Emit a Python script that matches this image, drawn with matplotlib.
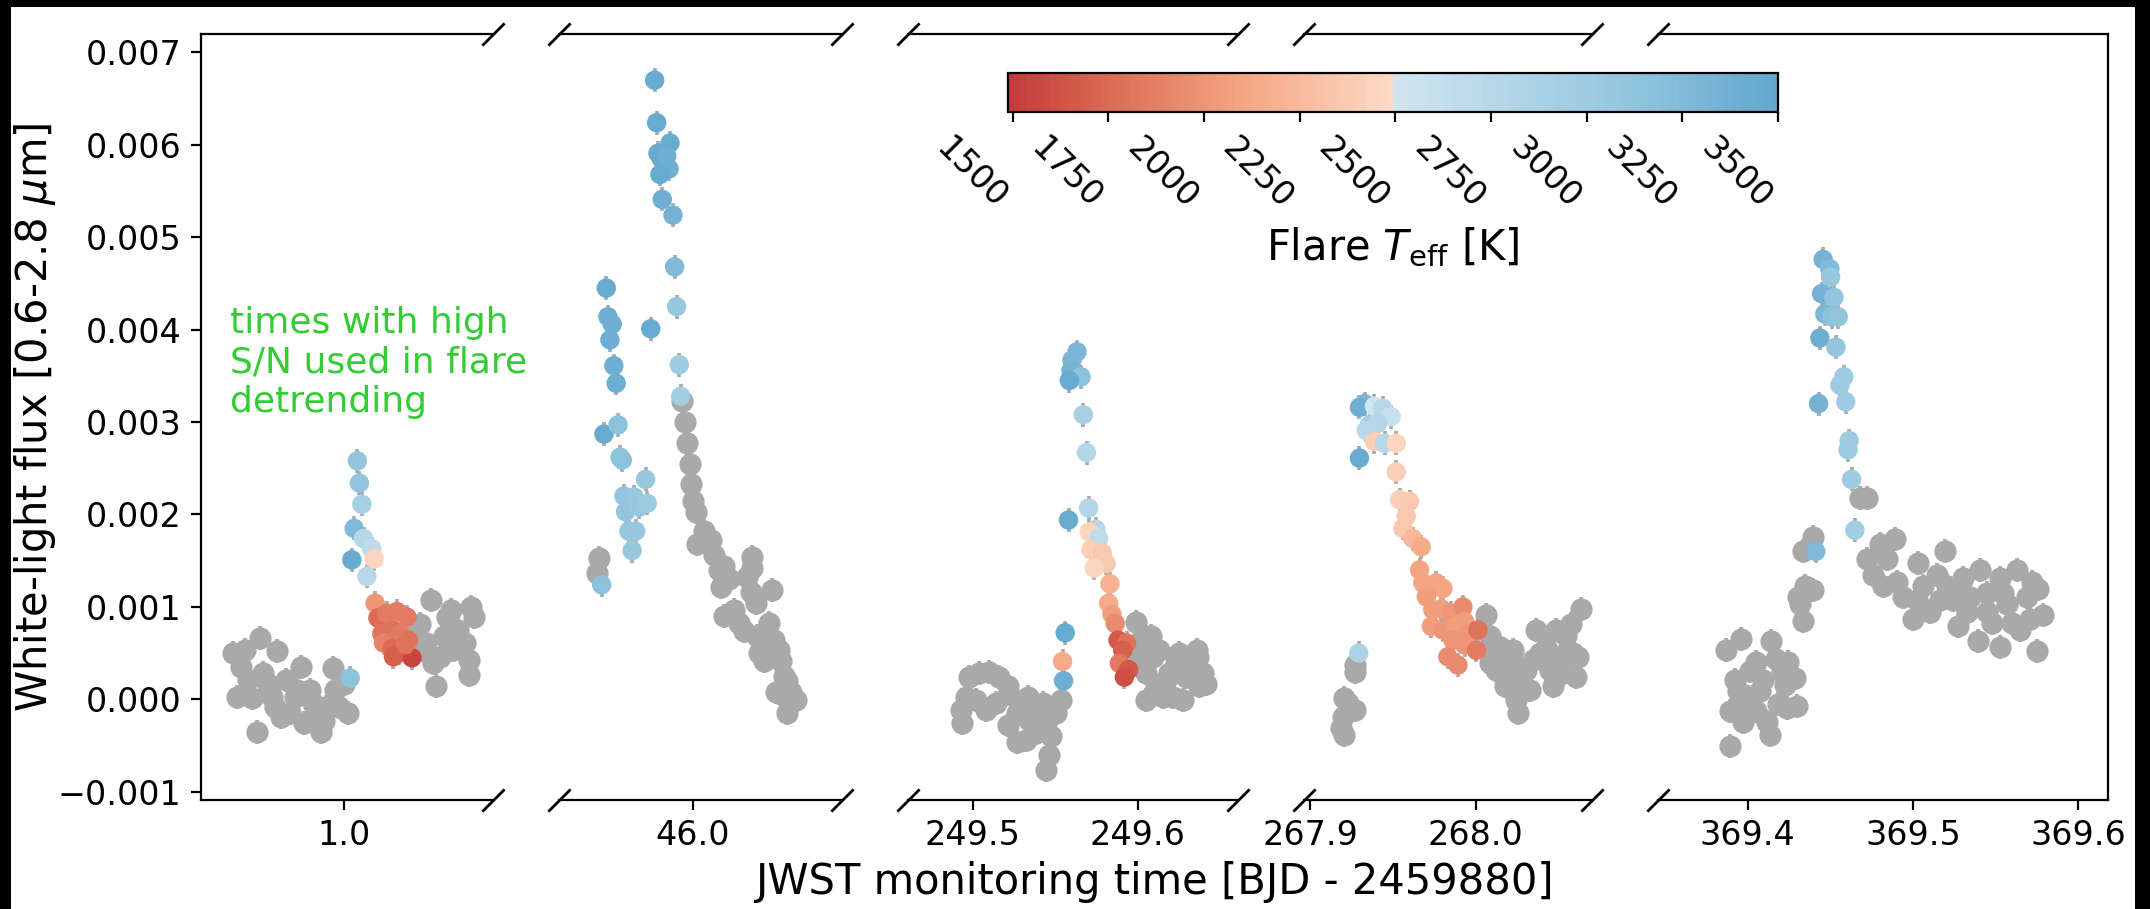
import numpy as np
import matplotlib
matplotlib.use('Agg')
import matplotlib.pyplot as plt
from matplotlib.colors import ListedColormap, Normalize
from matplotlib.patches import Rectangle

# ---- data (time in BJD - 2459880, white-light flux) ----
flux_err = 0.00013

# flare 1 (t ~ 1.0)
t1_gray = [0.9327, 0.9349, 0.9375, 0.9397, 0.9417, 0.9443, 0.9471, 0.9492, 0.9511, 0.9538,
           0.9565, 0.9579, 0.9592, 0.9620, 0.9646, 0.9674, 0.9700, 0.9714, 0.9741, 0.9755,
           0.9795, 0.9809, 0.9822, 0.9857, 0.9877, 0.9890, 0.9931, 0.9944, 0.9971, 0.9998,
           1.0025,
           1.0417, 1.0458, 1.0472, 1.0498, 1.0526, 1.0539, 1.0553, 1.0580, 1.0607, 1.0620,
           1.0647, 1.0661, 1.0688, 1.0701, 1.0729, 1.0756, 1.0756, 1.0769, 1.0783]
f1_gray = [0.00050, 0.00003, 0.00035, 0.00053, 0.00021, 0.00001, -0.00035, 0.00066, 0.00028, 0.00017,
           0.00003, -0.00008, 0.00052, -0.00019, 0.00021, -0.00015, 0.00003, 0.00010, 0.00035, -0.00026,
           0.00010, -0.00004, -0.00019, -0.00035, -0.00024, -0.00008, 0.00034, 0.00010, -0.00008, 0.00017,
           -0.00015,
           0.00068, 0.00082, 0.00053, 0.00061, 0.00107, 0.00039, 0.00014, 0.00046, 0.00068, 0.00089,
           0.00097, 0.00053, 0.00075, 0.00057, 0.00061, 0.00043, 0.00026, 0.00100, 0.00089]
t1_flare = [1.0080, 1.0092, 1.0107, 1.0060, 1.0117, 1.0167, 1.0046, 1.0181, 1.0137, 1.0187,
            1.0204, 1.0258, 1.0319, 1.0380, 1.0228, 1.0289, 1.0339, 1.0238, 1.0289, 1.0329,
            1.0389, 1.0410, 1.0298, 1.0369, 1.0036]
f1_flare = [0.00258, 0.00234, 0.00211, 0.00185, 0.00174, 0.00163, 0.00151, 0.00152, 0.00133, 0.00104,
            0.00088, 0.00093, 0.00095, 0.00089, 0.00071, 0.00075, 0.00070, 0.00061, 0.00055, 0.00050,
            0.00064, 0.00045, 0.00046, 0.00059, 0.00023]
teff1 = [3100, 3100, 2900, 3250, 2800, 2700, 3450, 2450, 2750, 2000,
         1750, 1850, 1850, 1850, 1800, 1800, 1850, 1900, 1750, 1700,
         1800, 1550, 1700, 1800, 3150]

# flare 2 (t ~ 46.0)
t2_gray = [45.9432, 45.9418, 45.9937, 45.9952, 45.9967, 45.9982, 45.9988, 46.0004, 46.0018, 46.0028,
           46.0069, 46.0109, 46.0129, 46.0160, 46.0190, 46.0170, 46.0220, 46.0190, 46.0251, 46.0281,
           46.0311, 46.0331, 46.0361, 46.0361, 46.0352, 46.0382, 46.0392, 46.0402, 46.0432, 46.0463,
           46.0483, 46.0493, 46.0523, 46.0534, 46.0554, 46.0573, 46.0534, 46.0594, 46.0624, 46.0573,
           46.0503]
f2_gray = [0.00153, 0.00137, 0.00323, 0.00300, 0.00277, 0.00255, 0.00233, 0.00215, 0.00203, 0.00168,
           0.00182, 0.00172, 0.00156, 0.00140, 0.00144, 0.00121, 0.00130, 0.00090, 0.00097, 0.00083,
           0.00074, 0.00132, 0.00154, 0.00142, 0.00116, 0.00104, 0.00069, 0.00050, 0.00041, 0.00083,
           0.00118, 0.00064, 0.00053, 0.00041, 0.00025, 0.00020, 0.00006, 0.00008, -0.00001, -0.00015,
           0.00008]
t2_flare = [45.9770, 45.9782, 45.9790, 45.9863, 45.9810, 45.9843, 45.9857, 45.9802, 45.9816, 45.9881,
            45.9891, 45.9903, 45.9919, 45.9928, 45.9477, 45.9487, 45.9513, 45.9499, 45.9523, 45.9537,
            45.9746, 45.9463, 45.9548, 45.9560, 45.9574, 45.9584, 45.9594, 45.9645, 45.9675, 45.9715,
            45.9725, 45.9614, 45.9655, 45.9634, 45.9449]
f2_flare = [0.00670, 0.00624, 0.00591, 0.00602, 0.00585, 0.00588, 0.00574, 0.00568, 0.00541, 0.00524,
            0.00468, 0.00425, 0.00362, 0.00328, 0.00445, 0.00414, 0.00406, 0.00389, 0.00361, 0.00342,
            0.00401, 0.00287, 0.00297, 0.00262, 0.00259, 0.00220, 0.00203, 0.00219, 0.00208, 0.00238,
            0.00212, 0.00182, 0.00182, 0.00161, 0.00124]
teff2 = [3450, 3450, 3450, 3450, 3450, 3400, 3400, 3450, 3400, 3350,
         3250, 3050, 3000, 2950, 3450, 3400, 3400, 3400, 3400, 3400,
         3450, 3450, 3150, 3150, 3150, 3100, 3100, 3050, 3050, 3050,
         3000, 3050, 3050, 3050, 3150]

# flare 3 (t ~ 249.55)
t3_gray = [249.4980, 249.5040, 249.5101, 249.5161, 249.4960, 249.4929, 249.4939, 249.5020, 249.5081, 249.5141,
           249.5212, 249.5222, 249.5212, 249.5272, 249.5333, 249.5343, 249.5272, 249.5323, 249.5394, 249.5424,
           249.5444, 249.5475, 249.5464, 249.5444, 249.5505, 249.5535, 249.5384,
           249.5949, 249.5990, 249.6010, 249.6030, 249.6050, 249.6050, 249.6081, 249.6090, 249.6111, 249.6131,
           249.6151, 249.6172, 249.6192, 249.6212, 249.6232, 249.6252, 249.6272, 249.6293, 249.6323, 249.6359,
           249.6363, 249.6373, 249.6393, 249.6416]
f3_gray = [0.00024, 0.00028, 0.00030, 0.00024, 0.00003, -0.00012, -0.00026, -0.00001, -0.00012, -0.00004,
           0.00014, 0.00006, -0.00028, -0.00015, 0.00003, -0.00022, -0.00046, -0.00044, -0.00012, -0.00004,
           -0.00026, -0.00040, -0.00060, -0.00077, -0.00015, -0.00001, -0.00037,
           0.00043, 0.00084, 0.00050, 0.00070, 0.00028, -0.00001, 0.00068, 0.00046, 0.00014, 0.00053,
           0.00003, 0.00021, 0.00028, 0.00003, 0.00043, 0.00050, -0.00001, 0.00024, 0.00039, 0.00053,
           0.00046, 0.00014, 0.00028, 0.00017]
t3_flare = [249.5632, 249.5602, 249.5596, 249.5657, 249.5586, 249.5671, 249.5690, 249.5703, 249.5581, 249.5747,
            249.5707, 249.5763, 249.5717, 249.5787, 249.5808, 249.5737, 249.5832, 249.5824, 249.5844, 249.5864,
            249.5881, 249.5933, 249.5909, 249.5889, 249.5945, 249.5919, 249.5561, 249.5545, 249.5551]
f3_flare = [0.00376, 0.00367, 0.00356, 0.00349, 0.00345, 0.00308, 0.00267, 0.00207, 0.00194, 0.00184,
            0.00181, 0.00174, 0.00162, 0.00158, 0.00147, 0.00142, 0.00125, 0.00104, 0.00092, 0.00082,
            0.00064, 0.00061, 0.00053, 0.00039, 0.00032, 0.00024, 0.00072, 0.00041, 0.00020]
teff3 = [3300, 3300, 3350, 3150, 3450, 2900, 2800, 2800, 3450, 2750,
         2450, 2700, 2400, 2350, 2350, 2450, 2200, 2150, 2050, 1950,
         1650, 1800, 1700, 1850, 1650, 1600, 3450, 2150, 3400]

# flare 4 (t ~ 267.95)
t4_gray = [267.9273, 267.9267, 267.9206, 267.9226, 267.9267, 267.9196, 267.9186, 267.9206,
           268.0065, 268.0085, 268.0105, 268.0146, 268.0085, 268.0186, 268.0226, 268.0176, 268.0206, 268.0247,
           268.0257, 268.0277, 268.0308, 268.0328, 268.0368, 268.0388, 268.0429, 268.0449, 268.0469, 268.0489,
           268.0509, 268.0529, 268.0550, 268.0580, 268.0590, 268.0611, 268.0620, 268.0641, 268.0347, 268.0226,
           268.0126]
f4_gray = [0.00030, 0.00037, 0.00001, -0.00004, -0.00012, -0.00019, -0.00031, -0.00039,
           0.00091, 0.00068, 0.00050, 0.00057, 0.00039, 0.00046, 0.00053, 0.00014, 0.00028, -0.00001,
           -0.00015, 0.00014, 0.00032, 0.00010, 0.00075, 0.00050, 0.00057, 0.00032, 0.00014, 0.00075,
           0.00046, 0.00028, 0.00068, 0.00082, 0.00050, 0.00024, 0.00046, 0.00098, 0.00043, 0.00039,
           0.00032]
t4_flare = [267.9328, 267.9297, 267.9388, 267.9438, 267.9489, 267.9358, 267.9408, 267.9338, 267.9388, 267.9449,
            267.9520, 267.9297, 267.9520, 267.9540, 267.9600, 267.9580, 267.9560, 267.9620, 267.9671, 267.9661,
            267.9681, 267.9762, 267.9802, 267.9702, 267.9741, 267.9792, 267.9853, 267.9923, 267.9732, 267.9802,
            267.9883, 267.9934, 267.9954, 268.0014, 267.9863, 267.9934, 268.0005, 267.9832, 267.9893, 267.9293]
f4_flare = [0.00320, 0.00316, 0.00317, 0.00315, 0.00306, 0.00297, 0.00299, 0.00291, 0.00279, 0.00277,
            0.00277, 0.00261, 0.00246, 0.00216, 0.00214, 0.00198, 0.00185, 0.00174, 0.00165, 0.00140,
            0.00126, 0.00126, 0.00120, 0.00111, 0.00097, 0.00098, 0.00093, 0.00100, 0.00079, 0.00075,
            0.00079, 0.00084, 0.00071, 0.00075, 0.00064, 0.00059, 0.00053, 0.00046, 0.00037, 0.00050]
teff4 = [3300, 3400, 2500, 2750, 2600, 2900, 2800, 2750, 2400, 2750,
         2450, 3450, 2400, 2400, 2350, 2350, 2350, 2250, 2150, 2100,
         2100, 2100, 2100, 2050, 2050, 2050, 2000, 1950, 2050, 2000,
         2050, 2050, 2000, 1800, 2000, 2000, 1850, 1950, 1950, 2850]

# flare 5 (t ~ 369.45)
t5_gray = [369.4679, 369.4720, 369.4396, 369.4336, 369.4346, 369.4396, 369.4305, 369.4316, 369.4336,
           369.3871, 369.3958, 369.4144, 369.3922, 369.4013, 369.4053, 369.4093, 369.4174, 369.4245, 369.4285,
           369.3891, 369.3952, 369.4002, 369.3972, 369.4053, 369.4114, 369.4134, 369.4184, 369.4225, 369.4235,
           369.4296, 369.3891, 369.3942, 369.4073, 369.4205,
           369.4720, 369.4760, 369.4800, 369.4841, 369.4891, 369.4820, 369.4902, 369.4942, 369.5002, 369.5032,
           369.5063, 369.5103, 369.5144, 369.5194, 369.5205, 369.5245, 369.5275, 369.5305, 369.5346, 369.5396,
           369.5406, 369.5447, 369.5477, 369.5528, 369.5528, 369.5568, 369.5598, 369.5629, 369.5649, 369.5689,
           369.5720, 369.5750, 369.5760, 369.5790, 369.5709, 369.5548, 369.5326, 369.5023, 369.5164, 369.5285,
           369.5447]
f5_gray = [0.00218, 0.00218, 0.00176, 0.00160, 0.00123, 0.00118, 0.00111, 0.00103, 0.00085,
           0.00053, 0.00065, 0.00063, 0.00021, 0.00031, 0.00040, 0.00021, 0.00044, 0.00040, 0.00023,
           -0.00013, -0.00005, 0.00003, -0.00025, -0.00013, -0.00025, -0.00039, -0.00005, 0.00015, -0.00009,
           -0.00007, -0.00051, 0.00009, 0.00009, 0.00029,
           0.00152, 0.00135, 0.00168, 0.00152, 0.00174, 0.00123, 0.00127, 0.00111, 0.00087, 0.00148,
           0.00123, 0.00095, 0.00135, 0.00160, 0.00123, 0.00107, 0.00079, 0.00131, 0.00111, 0.00063,
           0.00140, 0.00115, 0.00083, 0.00057, 0.00131, 0.00103, 0.00083, 0.00140, 0.00075, 0.00111,
           0.00127, 0.00052, 0.00119, 0.00091, 0.00087, 0.00115, 0.00095, 0.00107, 0.00107, 0.00111,
           0.00095]
t5_flare = [369.4457, 369.4497, 369.4502, 369.4447, 369.4522, 369.4467, 369.4508, 369.4548, 369.4437, 369.4534,
            369.4582, 369.4558, 369.4594, 369.4429, 369.4614, 369.4608, 369.4629, 369.4649, 369.4412]
f5_flare = [0.00476, 0.00466, 0.00457, 0.00439, 0.00435, 0.00417, 0.00414, 0.00414, 0.00391, 0.00381,
            0.00349, 0.00340, 0.00322, 0.00320, 0.00280, 0.00270, 0.00238, 0.00183, 0.00160]
teff5 = [3350, 3250, 3050, 3350, 3100, 3300, 3150, 3100, 3400, 3100,
         3000, 3000, 3000, 3350, 3000, 3000, 3000, 2950, 3250]

xlims = [(0.9133, 1.0900), (45.919, 46.0905), (249.461, 249.661),
         (267.8964, 268.0703), (369.3455, 369.6182)]
xticks = [[1.0], [46.0], [249.5, 249.6], [267.9, 268.0], [369.4, 369.5, 369.6]]
xticklabels = [['1.0'], ['46.0'], ['249.5', '249.6'], ['267.9', '268.0'],
               ['369.4', '369.5', '369.6']]
yticks = [-0.001, 0.0, 0.001, 0.002, 0.003, 0.004, 0.005, 0.006, 0.007]
cbar_ticks = [1500, 1750, 2000, 2250, 2500, 2750, 3000, 3250, 3500]
teff_min, teff_max = 1488, 3500

panels = [(t1_gray, f1_gray, t1_flare, f1_flare, teff1),
          (t2_gray, f2_gray, t2_flare, f2_flare, teff2),
          (t3_gray, f3_gray, t3_flare, f3_flare, teff3),
          (t4_gray, f4_gray, t4_flare, f4_flare, teff4),
          (t5_gray, f5_gray, t5_flare, f5_flare, teff5)]

# red/blue map with the pale middle cut out (jump at 2500 K)
rdbu = plt.get_cmap('RdBu')
cmap = ListedColormap(np.vstack([rdbu(np.linspace(0.15, 0.40, 128)),
                                 rdbu(np.linspace(0.60, 0.76, 128))]))
norm = Normalize(teff_min, teff_max)

fig = plt.figure(figsize=(10.75, 4.545), dpi=200)
fig.patch.set_facecolor('black')
fig.add_artist(Rectangle((11 / 2150, 0), 2124 / 2150, 902 / 909, transform=fig.transFigure,
                         facecolor='white', edgecolor='none', zorder=-5))

gs = fig.add_gridspec(1, 5, width_ratios=[hi - lo for lo, hi in xlims], wspace=0.2009,
                      left=0.0935, right=0.9805, bottom=0.1199, top=0.9626)
axes = [fig.add_subplot(gs[0, i]) for i in range(5)]

brk = dict(marker=[(-1, -1), (1, 1)], markersize=8, linestyle='none', color='k',
           mec='k', mew=1, clip_on=False)

for i, ax in enumerate(axes):
    tg, fg, tf, ff, te = panels[i]
    ax.errorbar(tg, fg, yerr=flux_err, fmt='o', ms=7, color='darkgray',
                ecolor='darkgray', elinewidth=1.3, zorder=1)
    ax.errorbar(tf, ff, yerr=flux_err, fmt='none', ecolor='darkgray', elinewidth=1.3, zorder=2)
    sc = ax.scatter(tf, ff, c=te, cmap=cmap, norm=norm, s=49, edgecolors='none', zorder=3)

    ax.set_xlim(*xlims[i])
    ax.set_ylim(-0.00109, 0.0072)
    ax.set_xticks(xticks[i], xticklabels[i])
    ax.tick_params(labelsize=12)
    if i > 0:
        ax.spines['left'].set_visible(False)
        ax.tick_params(left=False, labelleft=False)
        ax.plot([0, 0], [0, 1], transform=ax.transAxes, **brk)
    else:
        ax.set_yticks(yticks)
    if i < 4:
        ax.spines['right'].set_visible(False)
        ax.plot([1, 1], [0, 1], transform=ax.transAxes, **brk)

axes[0].set_ylabel(r'White-light flux [0.6-2.8 $\mu$m]', fontsize=15)
axes[0].yaxis.set_label_coords(-0.49, 0.5)
axes[0].text(0.1, 0.645, 'times with high\nS/N used in flare\ndetrending',
             transform=axes[0].transAxes, color='limegreen', fontsize=13,
             ha='left', va='top')

fig.text(0.537, 0.017, 'JWST monitoring time [BJD - 2459880]', ha='center',
         va='baseline', fontsize=15)

cax = fig.add_axes([1008 / 2150, 1 - 112 / 909, 770 / 2150, 39 / 909])
cb = fig.colorbar(sc, cax=cax, orientation='horizontal', ticks=cbar_ticks)
cb.ax.tick_params(labelsize=12)
for lab in cb.ax.get_xticklabels():
    lab.set_rotation(-45)
    lab.set_ha('right')
cb.set_label(r'Flare $T_{\rm eff}$ [K]', fontsize=15)

plt.savefig('out.png', dpi=200, facecolor=fig.get_facecolor())
